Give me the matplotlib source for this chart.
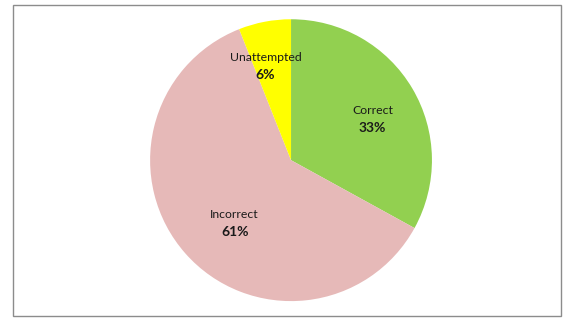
import matplotlib

matplotlib.use("Agg")
import matplotlib.pyplot as plt
import numpy as np
from matplotlib.patches import Rectangle

# answer breakdown
categories = ["Correct", "Incorrect", "Unattempted"]
shares = [33, 61, 6]
colours = ["#92D050", "#E6B9B8", "#FFFF00"]

# label placement: radius along the wedge bisector plus a small nudge
label_radius = [0.65, 0.60, 0.70]
label_nudge = [(0.02, -0.04), (0.05, -0.05), (-0.05, -0.02)]

plt.rcParams["font.family"] = ["Lato", "DejaVu Sans"]

fig = plt.figure(figsize=(5.64, 3.21), dpi=100, facecolor="white")

# chart-area border
fig.patches.append(Rectangle((13 / 564, 5 / 321), 548 / 564, 311 / 321,
                             transform=fig.transFigure, fill=False,
                             edgecolor="#8c8c8c", linewidth=1.0))

ax = fig.add_axes([0.266, 0.062, 0.5, 0.878])
wedges, _ = ax.pie(shares, colors=colours, startangle=90, counterclock=False,
                   radius=1.0, wedgeprops=dict(linewidth=0))
ax.set_xlim(-1, 1)
ax.set_ylim(-1, 1)
ax.set_aspect("equal")
ax.axis("off")

for w, cat, val, r, (dx, dy) in zip(wedges, categories, shares,
                                    label_radius, label_nudge):
    mid = np.deg2rad((w.theta1 + w.theta2) / 2)
    x, y = r * np.cos(mid) + dx, r * np.sin(mid) + dy
    ax.text(x, y + 0.064, cat, ha="center", va="center", fontsize=8.8,
            color="#1a1a1a")
    ax.text(x, y - 0.064, f"{val}%", ha="center", va="center", fontsize=10,
            fontweight="bold", color="#1a1a1a")

fig.savefig("out.png", dpi=100, facecolor="white")
